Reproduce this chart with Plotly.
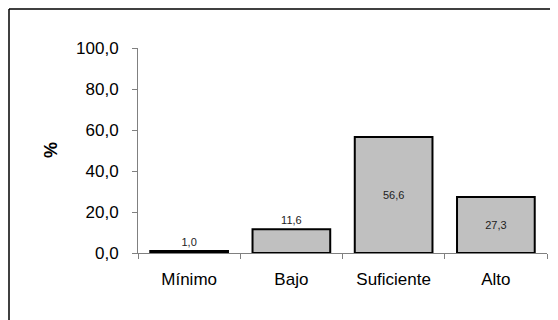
import plotly.graph_objects as go

categories = ["Mínimo", "Bajo", "Suficiente", "Alto"]
values = [1.0, 11.6, 56.6, 27.3]
text_positions = ["outside", "outside", "inside", "inside"]
y_ticks = [0, 20, 40, 60, 80, 100]

# page has an 8px body offset; target screen coords are reduced by OFF
OFF = 8
W, H = 558 - OFF, 320 - OFF
L, T = 138 - OFF, 48 - OFF
R = W - (547 - OFF)
B = H - (253 - OFF)
pw, ph = W - L - R, H - T - B

def px_x(x):
    return (x - OFF - L) / pw

def px_y(y):
    return (H - B - (y - OFF)) / ph

fig = go.Figure()
fig.add_trace(go.Bar(
    x=categories, y=values,
    marker=dict(color="#c0c0c0", line=dict(color="black", width=2)),
    width=0.76,
    texttemplate="%{y:.1f}",
    textposition=text_positions,
    insidetextanchor="middle",
    textfont=dict(family="Liberation Sans, Arial", size=11, color="#222222"),
    cliponaxis=False,
))

fig.update_layout(
    width=W, height=H, autosize=False,
    margin=dict(l=L, r=R, t=T, b=B),
    paper_bgcolor="white", plot_bgcolor="white",
    separators=",.",
    showlegend=False,
    font=dict(family="Liberation Sans, Arial", size=17, color="black"),
)
fig.update_yaxes(
    range=[0, 100], tickvals=y_ticks, tickformat=".1f",
    showgrid=False, showline=True, linecolor="#808080", linewidth=1,
    ticks="outside", ticklen=5, tickcolor="#808080",
    zeroline=False, tickfont=dict(size=17), ticklabelstandoff=10,
)
fig.update_xaxes(
    showgrid=False, showline=True, linecolor="#808080", linewidth=1,
    ticks="outside", ticklen=5, tickcolor="#808080", tickson="boundaries",
    tickfont=dict(size=17), ticklabelstandoff=11,
)
fig.add_annotation(
    text="<b>%</b>", textangle=-90, showarrow=False,
    xref="paper", yref="paper", x=px_x(51), y=px_y(150),
    xanchor="center", yanchor="middle", font=dict(size=18),
)
fig.add_shape(type="line", xref="paper", yref="paper",
              x0=px_x(9), x1=px_x(570), y0=px_y(9), y1=px_y(9),
              line=dict(color="black", width=1.5))
fig.add_shape(type="line", xref="paper", yref="paper",
              x0=px_x(9), x1=px_x(9), y0=px_y(9), y1=px_y(330),
              line=dict(color="black", width=1.5))

fig.write_html("out.html")
